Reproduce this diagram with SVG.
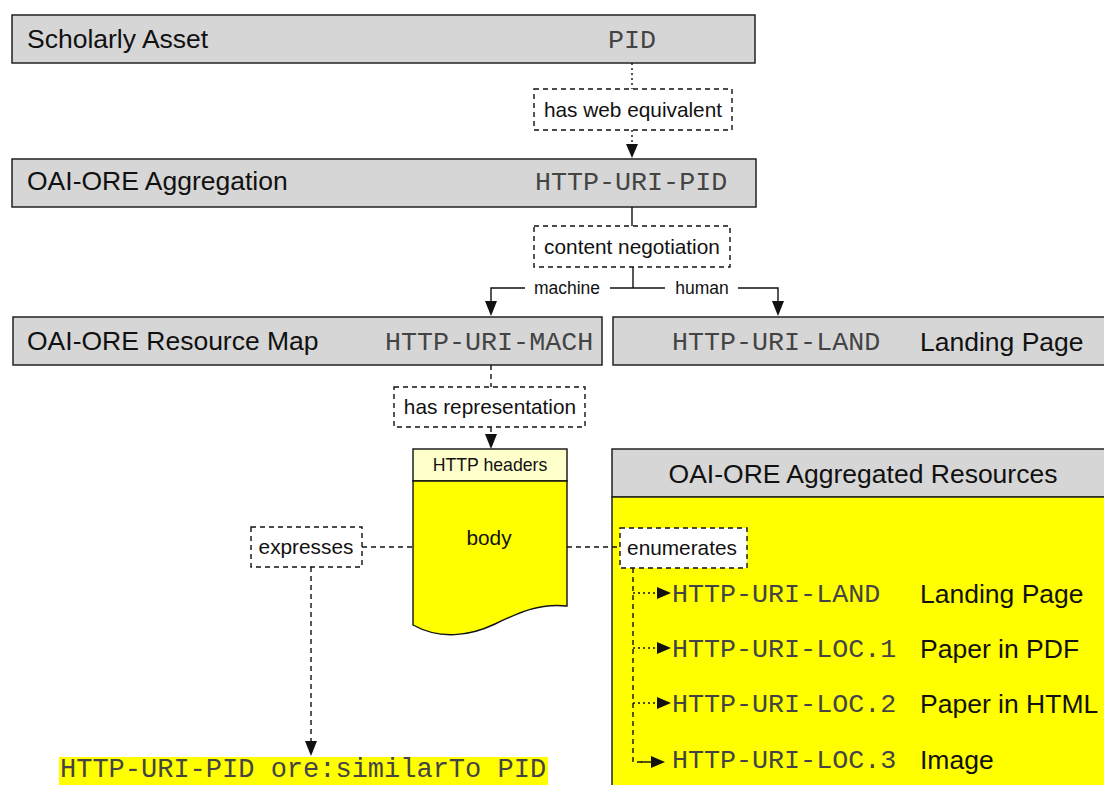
<svg xmlns="http://www.w3.org/2000/svg" width="1104" height="785" viewBox="0 0 1104 785">
<style>
.box{fill:#d6d6d6;stroke:#222;stroke-width:1.5}
.big{font-family:"Liberation Sans",Arial,sans-serif;font-size:26.5px;fill:#111}
.mono{font-family:"Liberation Mono","Courier New",monospace;font-size:26.7px;fill:#444}
.lbl{font-family:"Liberation Sans",Arial,sans-serif;font-size:20.8px;fill:#111}
.sm{font-family:"Liberation Sans",Arial,sans-serif;font-size:17.5px;fill:#111}
.dbox{fill:#fff;stroke:#111;stroke-width:1.4;stroke-dasharray:5,4}
.solid{fill:none;stroke:#111;stroke-width:1.4}
.dash{fill:none;stroke:#111;stroke-width:1.4;stroke-dasharray:5,4}
.dot{fill:none;stroke:#111;stroke-width:1.4;stroke-dasharray:2,3}
.ah{fill:#111}
</style>

<g id="scholarly-asset">
<rect class="box" x="12" y="15" width="743" height="48"/>
<text class="big" x="27" y="48">Scholarly Asset</text>
<text class="mono" x="608" y="48">PID</text>
</g>

<g id="aggregation">
<rect class="box" x="12" y="159" width="744" height="48"/>
<text class="big" x="27" y="190">OAI-ORE Aggregation</text>
<text class="mono" x="535" y="190">HTTP-URI-PID</text>
</g>

<g id="resource-map">
<rect class="box" x="13" y="317" width="589" height="48"/>
<text class="big" x="27" y="350">OAI-ORE Resource Map</text>
<text class="mono" x="385" y="350">HTTP-URI-MACH</text>
</g>

<g id="landing-page">
<rect class="box" x="613" y="317" width="500" height="48"/>
<text class="mono" x="672" y="350">HTTP-URI-LAND</text>
<text class="big" x="920" y="351">Landing Page</text>
</g>

<g id="document">
<rect x="413" y="449" width="154" height="32" fill="#ffffcc" stroke="#111" stroke-width="1.4"/>
<path d="M413,481 L567,481 L567,606 C540,603 520,612 495,624 C470,636 440,640 413,625 Z" fill="#ffff00" stroke="#111" stroke-width="1.4"/>
<text class="sm" x="490" y="471" text-anchor="middle" style="font-size:17.7px">HTTP headers</text>
<text class="lbl" x="489" y="545" text-anchor="middle">body</text>
</g>

<g id="aggregated-resources">
<rect x="612" y="449" width="500" height="48" fill="#d6d6d6" stroke="#222" stroke-width="1.5"/>
<rect x="612" y="497" width="500" height="300" fill="#ffff00" stroke="#222" stroke-width="1.5"/>
<text class="big" x="863" y="483" text-anchor="middle">OAI-ORE Aggregated Resources</text>
<text class="mono" x="672" y="602">HTTP-URI-LAND</text>
<text class="big" x="920" y="603">Landing Page</text>
<text class="mono" x="672" y="657">HTTP-URI-LOC.1</text>
<text class="big" x="920" y="658">Paper in PDF</text>
<text class="mono" x="672" y="712">HTTP-URI-LOC.2</text>
<text class="big" x="920" y="713">Paper in HTML</text>
<text class="mono" x="672" y="768">HTTP-URI-LOC.3</text>
<text class="big" x="920" y="769">Image</text>
</g>

<g id="has-web-equivalent">
<rect class="dbox" x="534" y="89" width="198" height="41"/>
<text class="lbl" x="633" y="117" text-anchor="middle">has web equivalent</text>
</g>

<g id="content-negotiation">
<rect class="dbox" x="534" y="226" width="196" height="41"/>
<text class="lbl" x="632" y="254" text-anchor="middle">content negotiation</text>
</g>

<g id="has-representation">
<rect class="dbox" x="394" y="387" width="191" height="40"/>
<text class="lbl" x="490" y="414" text-anchor="middle">has representation</text>
</g>

<g id="expresses">
<rect class="dbox" x="251" y="527" width="111" height="40"/>
<text class="lbl" x="306" y="554" text-anchor="middle">expresses</text>
</g>

<g id="enumerates">
<rect class="dbox" x="620" y="528" width="127" height="40"/>
<text class="lbl" x="682" y="555" text-anchor="middle">enumerates</text>
</g>

<g id="similar-to">
<rect x="59" y="757" width="489" height="28" fill="#ffff00"/>
<text class="mono" x="60" y="777" style="font-size:27px">HTTP-URI-PID ore:similarTo PID</text>
</g>

<g id="connectors">
<line class="dot" x1="632" y1="63" x2="632" y2="89"/>
<line class="dot" x1="632" y1="130" x2="632" y2="145"/>
<polygon class="ah" points="626,144 638,144 632,158"/>

<line class="solid" x1="632" y1="207" x2="632" y2="226"/>
<line class="solid" x1="633" y1="267" x2="633" y2="288"/>
<polyline class="solid" points="525,288 491,288 491,302"/>
<polygon class="ah" points="485,301 497,301 491,316"/>
<line class="solid" x1="610" y1="288" x2="665" y2="288"/>
<polyline class="solid" points="738,288 778,288 778,302"/>
<polygon class="ah" points="772,301 784,301 778,316"/>
<text class="sm" x="567" y="294" text-anchor="middle">machine</text>
<text class="sm" x="702" y="294" text-anchor="middle">human</text>

<line class="dash" x1="491" y1="365" x2="491" y2="387"/>
<line class="dash" x1="491" y1="427" x2="491" y2="435"/>
<polygon class="ah" points="485,434 497,434 491,449"/>

<line class="dash" x1="362" y1="547" x2="413" y2="547"/>
<line class="dash" x1="567" y1="547" x2="620" y2="547"/>

<line class="dash" x1="311" y1="567" x2="311" y2="742"/>
<polygon class="ah" points="305,741 317,741 311,756"/>

<polyline class="dash" points="633,568 633,762 643,762"/>
<line class="dot" x1="633" y1="593" x2="658" y2="593"/>
<polygon class="ah" points="657,587 657,599 671,593"/>
<line class="dot" x1="633" y1="648" x2="658" y2="648"/>
<polygon class="ah" points="657,642 657,654 671,648"/>
<line class="dot" x1="633" y1="703" x2="658" y2="703"/>
<polygon class="ah" points="657,697 657,709 671,703"/>
<line class="solid" x1="641" y1="762" x2="651" y2="762"/>
<polygon class="ah" points="651,756 651,768 665,762"/>
</g>
</svg>
